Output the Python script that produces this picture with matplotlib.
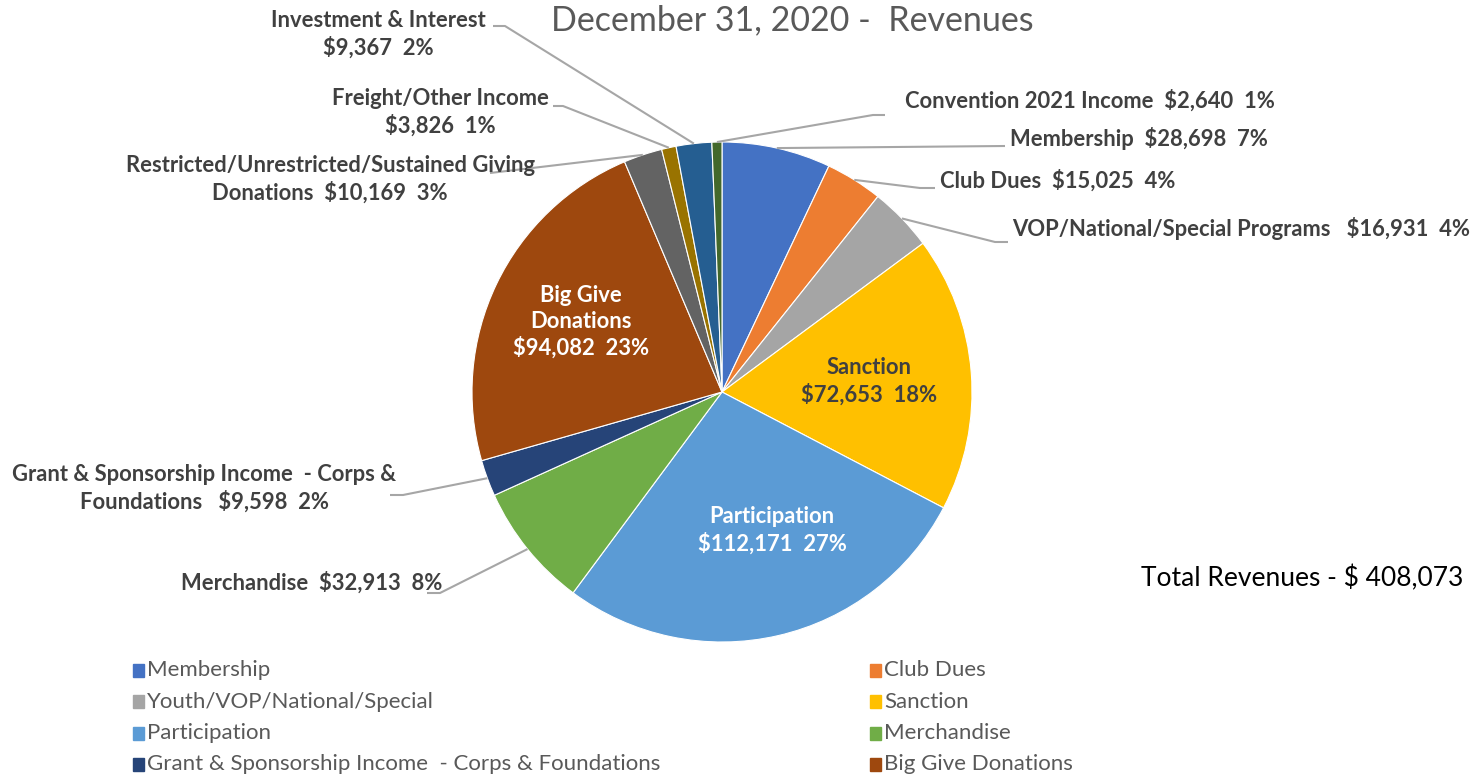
import matplotlib.pyplot as plt
from matplotlib.patches import Rectangle
import numpy as np

plt.rcParams['font.family'] = ['Lato', 'DejaVu Sans']

# slices, clockwise from 12 o'clock
names = ["Membership", "Club Dues", "Youth/VOP/National/Special", "Sanction",
         "Participation", "Merchandise",
         "Grant & Sponsorship Income  - Corps & Foundations", "Big Give Donations",
         "Restricted/Unrestricted/Sustained Giving Donations",
         "Freight/Other Income", "Investment & Interest", "Convention 2021 Income"]
values = [28698, 15025, 16931, 72653, 112171, 32913, 9598, 94082, 10169, 3826, 9367, 2640]
pcts = [7, 4, 4, 18, 27, 8, 2, 23, 3, 1, 2, 1]
label_names = ["Membership", "Club Dues", "VOP/National/Special Programs", "Sanction",
               "Participation", "Merchandise",
               "Grant & Sponsorship Income  - Corps &\nFoundations ", "Big Give\nDonations",
               "Restricted/Unrestricted/Sustained Giving\nDonations", "Freight/Other Income",
               "Investment & Interest", "Convention 2021 Income"]
label_seps = ["  ", "  ", "   ", "\n", "\n", "  ", "  ", "\n", "  ", "\n", "\n", "  "]
colors = ["#4472C4", "#ED7D31", "#A5A5A5", "#FFC000", "#5B9BD5", "#70AD47",
          "#264478", "#9E480E", "#636363", "#997300", "#255E91", "#43682B"]
n_legend = 8
total_text = "Total Revenues - $ 408,073"
title = "December 31, 2020 -  Revenues"

W, H = 1484, 779
fig = plt.figure(figsize=(W / 100, H / 100), dpi=100)
ax = fig.add_axes([0, 0, 1, 1])

def fy(y):
    return H - y

cx, cy, r = 722, fy(392), 250
wedges, _ = ax.pie(values, colors=colors, startangle=90, counterclock=False,
                   center=(cx, cy), radius=r,
                   wedgeprops=dict(linewidth=0.8, edgecolor='white'))
ax.set_xlim(0, W)
ax.set_ylim(0, H)
ax.set_aspect('equal')
ax.axis('off')

# label layout: (x, y, ha, color, leader path in pixels or None)
layout = [
    (1010, 138, 'left', '#404040', [(1005, 146)]),
    (940, 181, 'left', '#404040', [(920, 188), (935, 188)]),
    (1012, 228, 'left', '#404040', [(995, 242), (1008, 242)]),
    (869, 381, 'center', '#404040', None),
    (772, 530, 'center', 'white', None),
    (442, 583, 'right', '#404040', [(440, 593), (427, 593)]),
    (204, 488, 'center', '#404040', [(403, 495), (390, 495)]),
    (581, 322, 'center', 'white', None),
    (330, 179, 'center', '#404040', [(490, 173)]),
    (440, 112, 'center', '#404040', [(563, 106), (553, 106)]),
    (378, 34, 'center', '#404040', [(505, 26), (493, 26)]),
    (905, 101, 'left', '#404040', [(873, 115), (885, 115)]),
]

for w, name, v, p, sep, (tx, ty, ha, col, path) in zip(
        wedges, label_names, values, pcts, label_seps, layout):
    txt = f"{name}{sep}${v:,}  {p}%"
    ax.text(tx, fy(ty), txt, ha=ha, va='center', color=col, fontsize=15.8,
            fontweight='bold', linespacing=1.28, multialignment='center')
    if path:
        mid = np.deg2rad((w.theta1 + w.theta2) / 2)
        xs = [cx + r * np.cos(mid)] + [px for px, _ in path]
        ys = [cy + r * np.sin(mid)] + [fy(py) for _, py in path]
        ax.plot(xs, ys, color='#A6A6A6', lw=1.5, solid_capstyle='butt')

ax.text(792, fy(20), title, ha='center', va='center', fontsize=24.5, color='#595959')
ax.text(1302, fy(578), total_text, ha='center', va='center', fontsize=19, color='black')

# legend, two columns, row-major
for i in range(n_legend):
    col, row = i % 2, i // 2
    x0 = [133, 870][col]
    y0 = 670 + row * 31.5
    ax.add_patch(Rectangle((x0, fy(y0) - 6.5), 11, 13, color=colors[i]))
    ax.text(x0 + 14, fy(y0), names[i], ha='left', va='center', fontsize=16, color='#595959')

fig.savefig("out.png", dpi=100)
